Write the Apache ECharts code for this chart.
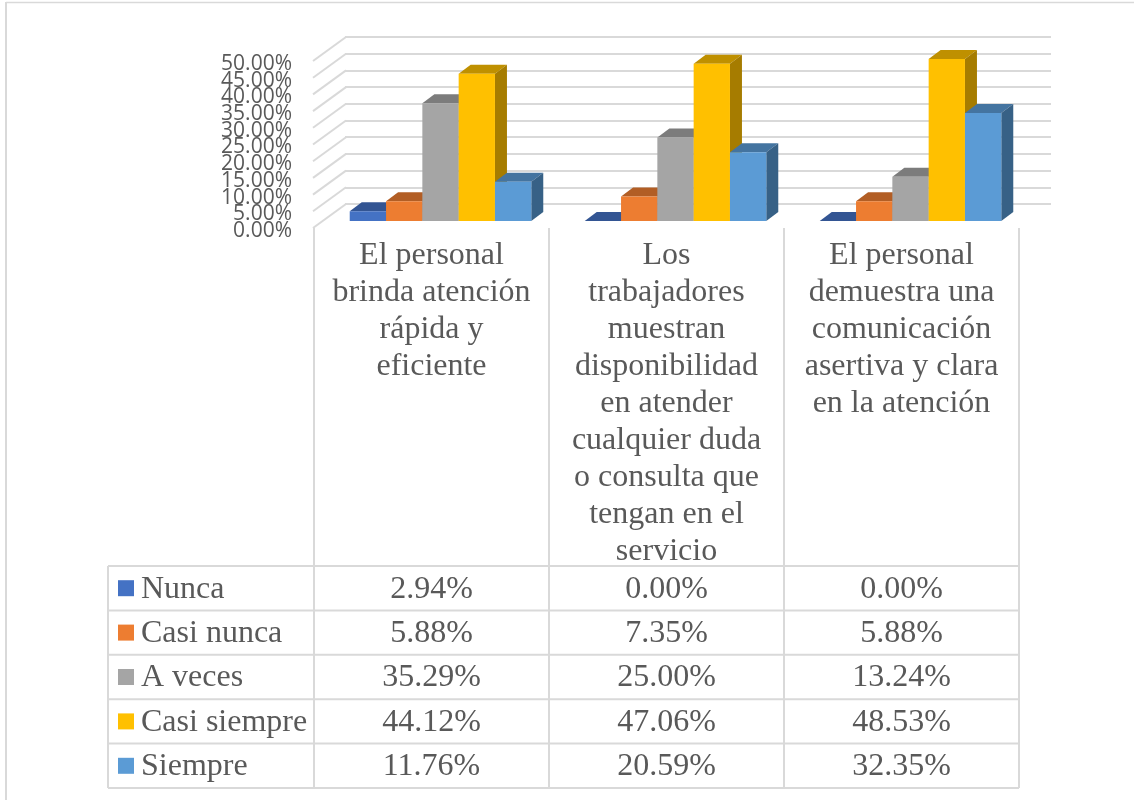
<!DOCTYPE html>
<html>
<head>
<meta charset="utf-8">
<style>html,body{margin:0;padding:0;background:#fff}#chart{width:1134px;height:800px}</style>
<script src="https://cdn.jsdelivr.net/npm/echarts@6/dist/echarts.min.js"></script>
</head>
<body>
<div id="chart"></div>
<script>
const categories = [
  'El personal\nbrinda atención\nrápida y\neficiente',
  'Los\ntrabajadores\nmuestran\ndisponibilidad\nen atender\ncualquier duda\no consulta que\ntengan en el\nservicio',
  'El personal\ndemuestra una\ncomunicación\nasertiva y clara\nen la atención'
];
const seriesNames = ['Nunca', 'Casi nunca', 'A veces', 'Casi siempre', 'Siempre'];
const nunca = [2.94, 0, 0];
const casiNunca = [5.88, 7.35, 5.88];
const aVeces = [35.29, 25, 13.24];
const casiSiempre = [44.12, 47.06, 48.53];
const siempre = [11.76, 20.59, 32.35];
const seriesValues = [nunca, casiNunca, aVeces, casiSiempre, siempre];
const yTicks = [0, 5, 10, 15, 20, 25, 30, 35, 40, 45, 50];

const faceColors = ['#4472c4', '#ed7d31', '#a5a5a5', '#ffc000', '#5b9bd5'];
const topColors = ['#335593', '#b25e25', '#7c7c7c', '#bf9000', '#4474a0'];
const sideColors = ['#294477', '#8e4b1d', '#636363', '#a67c00', '#376186'];

const GRID = '#d9d9d9';
const TEXT = '#595959';
const SERIF = '"Liberation Serif", serif';
const tableLeft = 108, tableTop = 566, rowH = 44.4, rows = seriesNames.length;
const plotLeft = 314, plotTop = 61, plotW = 705, plotH = 167;
const depthX = 32, depthY = 24;     // wall depth of the 3D box
const barDX = 9, barDY = 7;         // bars stand slightly inside the floor
const barD = 12, barDH = 9;         // bar depth
const barFrac = 0.1545;             // bar width as a share of a category band
const textOffset = 1;

function toPct(v) { return v.toFixed(2) + '%'; }

// One 3D column: front face, top and right side.
function renderBar(params, api) {
  const s = api.value(0), c = api.value(1), v = api.value(2);
  const band = api.size([1, 0])[0];
  const w = band * barFrac;
  const center = api.coord([c, 0])[0];
  const x = center + barDX + (s - 2.5) * w;
  const y0 = api.coord([c, 0])[1] - barDY;
  const y1 = api.coord([c, v])[1] - barDY;
  return {
    type: 'group',
    children: [
      { type: 'polygon', shape: { points: [[x, y1], [x + w, y1], [x + w + barD, y1 - barDH], [x + barD, y1 - barDH]] },
        style: { fill: topColors[s] } },
      { type: 'polygon', shape: { points: [[x + w, y0], [x + w + barD, y0 - barDH], [x + w + barD, y1 - barDH], [x + w, y1]] },
        style: { fill: sideColors[s] } },
      { type: 'rect', shape: { x: x, y: y1, width: w, height: y0 - y1 },
        style: { fill: faceColors[s] } }
    ]
  };
}

// Left wall of the box: a diagonal from each tick on the front edge to the back
// wall, plus its tick label. The labels sit closer than their height, so they are
// drawn here, where none of them gets dropped as overlapping.
function renderWall(params, api) {
  const t = api.value(0);
  const p = api.coord([0, t]);
  const x = params.coordSys.x;
  return {
    type: 'group',
    children: [
      { type: 'line', shape: { x1: x - 1, y1: p[1], x2: x + depthX, y2: p[1] - depthY },
        style: { stroke: GRID, lineWidth: 2 } },
      { type: 'text', style: { x: x - 22, y: p[1] + 3, text: toPct(t), align: 'right', verticalAlign: 'middle',
        font: '21px "Open Sans"', fill: TEXT } }
    ]
  };
}

// Data table under the plot: one text per category and series.
function renderCell(params, api) {
  const s = api.value(0), c = api.value(1), v = api.value(2);
  return { type: 'text', style: {
    x: api.coord([c, 0])[0], y: tableTop + rowH * (s + 0.5) + textOffset,
    text: toPct(v), align: 'center', verticalAlign: 'middle',
    font: '32px ' + SERIF, fill: TEXT } };
}

const barData = [], cellData = [];
seriesValues.forEach((vals, s) => vals.forEach((v, c) => {
  barData.push([s, c, v]);
  cellData.push([s, c, v]);
}));

// Table rules and the legend keys in the first column.
const tableGraphics = [];
function rule(x1, y1, x2, y2, w) {
  tableGraphics.push({ type: 'line', silent: true,
    shape: { x1, y1, x2, y2 }, style: { stroke: GRID, lineWidth: w || 2 } });
}
// Page frame along the top and left edges.
rule(6, 2.5, 1134, 2.5, 1.5);
rule(6, 2, 6, 800, 2);
for (let r = 0; r <= rows; r++) {
  rule(tableLeft, tableTop + r * rowH, plotLeft + plotW, tableTop + r * rowH);
}
rule(tableLeft, tableTop, tableLeft, tableTop + rows * rowH);
for (let c = 0; c <= categories.length; c++) {
  const x = plotLeft + c * plotW / categories.length;
  rule(x, plotTop + plotH, x, tableTop + rows * rowH);
}
seriesNames.forEach((name, r) => {
  const cy = tableTop + rowH * (r + 0.5);
  tableGraphics.push({ type: 'rect', silent: true,
    shape: { x: 118, y: cy - 8, width: 16, height: 16 }, style: { fill: faceColors[r] } });
  tableGraphics.push({ type: 'text', silent: true, x: 141, y: cy + textOffset,
    style: { text: name, font: '32px ' + SERIF, fill: TEXT, verticalAlign: 'middle' } });
});

const chart = echarts.init(document.getElementById('chart'), null, { renderer: 'canvas' });
chart.setOption({
  animation: false,
  backgroundColor: '#fff',
  grid: [
    { left: plotLeft, top: plotTop, width: plotW, height: plotH },
    { left: plotLeft + depthX - 1, top: plotTop - depthY, width: plotW + 1, height: plotH }
  ],
  xAxis: [
    { type: 'category', gridIndex: 0, data: categories,
      axisLine: { show: false }, axisTick: { show: false },
      axisLabel: { interval: 0, margin: 9, color: TEXT, fontFamily: SERIF, fontSize: 32,
        lineHeight: 37, verticalAlign: 'top', hideOverlap: false } },
    { type: 'category', gridIndex: 1, data: categories, show: false }
  ],
  yAxis: [
    { type: 'value', gridIndex: 0, min: 0, max: 50, interval: 5,
      axisLine: { show: false }, axisTick: { show: false }, splitLine: { show: false },
      axisLabel: { show: false } },
    { type: 'value', gridIndex: 1, min: 0, max: 50, interval: 5,
      axisLine: { show: false }, axisTick: { show: false }, axisLabel: { show: false },
      splitLine: { show: true, lineStyle: { color: GRID, width: 2 } } }
  ],
  graphic: { elements: tableGraphics },
  series: [
    { type: 'custom', xAxisIndex: 0, yAxisIndex: 0, renderItem: renderWall, data: yTicks.map(t => [t]),
      encode: { y: 0 }, silent: true, clip: false, z: 1 },
    { type: 'custom', xAxisIndex: 0, yAxisIndex: 0, renderItem: renderBar, data: barData,
      encode: { x: 1, y: 2 }, silent: true, z: 3 },
    { type: 'custom', xAxisIndex: 0, yAxisIndex: 0, renderItem: renderCell, data: cellData,
      encode: { x: 1, y: 2 }, silent: true, clip: false, z: 4 }
  ]
});
</script>
</body>
</html>
